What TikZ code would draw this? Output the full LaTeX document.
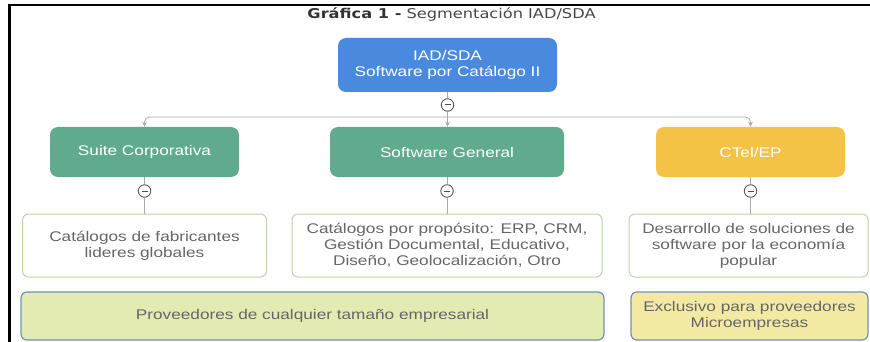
\documentclass[tikz,border=0pt]{standalone}
\usepackage{fontspec}
\setmainfont{Liberation Sans}[FakeStretch=1.23]
\newfontfamily\titlefont{DejaVu Sans}[FakeStretch=1.2]
\usetikzlibrary{arrows.meta}
\definecolor{cblue}{RGB}{74,138,222}
\definecolor{cgreen}{RGB}{96,170,141}
\definecolor{cyellow}{RGB}{244,194,68}
\definecolor{cwborder}{RGB}{184,218,160}
\definecolor{clgreen}{RGB}{227,235,178}
\definecolor{clyellow}{RGB}{242,234,162}
\definecolor{cbborder}{RGB}{112,144,190}
\definecolor{ctext}{RGB}{102,102,102}
\definecolor{cline}{RGB}{170,170,170}
\tikzset{
  bodyfont/.style={font=\fontsize{14}{16}\selectfont},
  topbox/.style={rounded corners=8pt, fill=cblue, text=white, align=center, inner sep=0pt, bodyfont, minimum width=219pt, minimum height=54pt},
  midbox/.style={rounded corners=8pt, text=white, align=center, inner sep=0pt, bodyfont, minimum width=189pt, minimum height=50pt},
  leafbox/.style={rounded corners=6pt, draw=cwborder, line width=1pt, fill=white, text=ctext, align=center, inner sep=0pt, bodyfont, minimum height=63pt},
  basebox/.style={rounded corners=6pt, draw=cbborder, line width=1.2pt, text=ctext, align=center, inner sep=0pt, bodyfont, minimum height=48pt},
  toggle/.style={circle, draw=black!65, line width=0.9pt, fill=white, minimum size=12.5pt, inner sep=0pt,
    path picture={\draw[black!70, line width=1pt] ([xshift=-3pt]path picture bounding box.center) -- ([xshift=3pt]path picture bounding box.center);}},
  conn/.style={draw=cline, line width=0.8pt},
  arr/.style={conn, -{Stealth[length=5pt,width=4.5pt]}, rounded corners=5pt},
}
\begin{document}
\begin{tikzpicture}[x=1pt,y=-1pt]
\useasboundingbox (0,0) rectangle (870,342);
% frame
\draw[line width=2.2pt, black] (9.5,342) -- (9.5,5) -- (870,5);
% title
\node[font=\titlefont\fontsize{13.5}{16}\selectfont, text=black!80, anchor=base] (title) at (451.5,19) {\textbf{Gráfica 1 -} \textcolor{black!72}{Segmentación IAD/SDA}};
% top
\node[topbox] (iad) at (447.5,65) {IAD/SDA\\Software por Catálogo II};
\node[toggle] (c0) at (447.5,105) {};
\coordinate (hb) at (447.5,117);
% level 2
\node[midbox, fill=cgreen] (g1) at (144.5,152) {Suite Corporativa};
\node[midbox, fill=cgreen, minimum width=234pt] (g2) at (447,152) {Software General};
\node[midbox, fill=cyellow] (g3) at (750.5,152) {CTel/EP};
% toggles
\node[toggle] (c1) at (144.5,191) {};
\node[toggle] (c2) at (447,191) {};
\node[toggle] (c3) at (750.5,191) {};
% leaves
\node[leafbox, minimum width=244pt] (w1) at (144.5,245.5) {Catálogos de fabricantes\\lideres globales};
\node[leafbox, minimum width=310pt] (w2) at (447,245.5) {Catálogos por propósito: ERP, CRM,\\Gestión Documental, Educativo,\\Diseño, Geolocalización, Otro};
\node[leafbox, minimum width=239pt] (w3) at (748.5,245.5) {Desarrollo de soluciones de\\software por la economía\\popular};
% base
\node[basebox, fill=clgreen, minimum width=583pt] (b1) at (312.5,316) {Proveedores de cualquier tamaño empresarial};
\node[basebox, fill=clyellow, minimum width=237pt] (b2) at (749.5,316) {Exclusivo para proveedores\\Microempresas};
% connectors
\draw[conn] (iad.south) -- (c0.north);
\draw[arr] (c0.south) -- (c0.south |- g2.north);
\draw[arr] (hb) -| (g1.north);
\draw[arr] (hb) -| (g3.north);
\draw[conn] (g1.south) -- (c1.north);
\draw[conn] (g2.south) -- (c2.north);
\draw[conn] (g3.south) -- (c3.north);
\draw[conn] (c1.south) -- (c1.south |- w1.north);
\draw[conn] (c2.south) -- (c2.south |- w2.north);
\draw[conn] (c3.south) -- (c3.south |- w3.north);
\end{tikzpicture}
\end{document}
